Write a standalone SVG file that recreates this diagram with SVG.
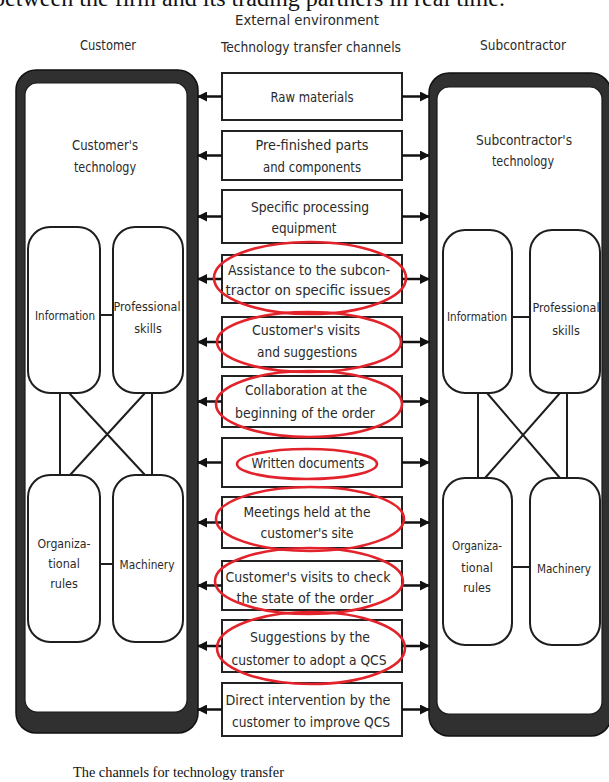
<svg xmlns="http://www.w3.org/2000/svg" width="609" height="782" viewBox="0 0 609 782">
<style>
.t{font-family:"DejaVu Sans Condensed","DejaVu Sans",sans-serif;font-stretch:condensed;fill:#2a2a2a;text-anchor:middle}
.h{font-size:14px}
.c{font-size:14px}
.s{font-size:12.5px}
.box{fill:#fff;stroke:#222;stroke-width:2}
.sub{fill:#fff;stroke:#1e1e1e;stroke-width:2}
.ln{stroke:#1e1e1e;stroke-width:2;fill:none}
.ar{stroke:#111;stroke-width:2.5;fill:none}
.red{fill:none;stroke:#e3232b;stroke-width:2.6}
.outer{fill:#303030;stroke:#111;stroke-width:1.5}
.inner{fill:#fff;stroke:#1a1a1a;stroke-width:1.2}
.serif{font-family:"Liberation Serif","Times New Roman",serif;fill:#111}
</style>
<defs>
<marker id="ah" viewBox="0 0 10 10" refX="9" refY="5" markerWidth="4" markerHeight="4" orient="auto-start-reverse" markerUnits="strokeWidth">
<path d="M0,0 L10,5 L0,10 z" fill="#111"/>
</marker>
</defs>
<rect width="609" height="782" fill="#fff"/>
<text class="serif" x="-7" y="6" font-size="24" textLength="512" lengthAdjust="spacingAndGlyphs">between the firm and its trading partners in real time.</text>

<g id="headers">
<text class="t h" x="307" y="25" textLength="144" lengthAdjust="spacingAndGlyphs">External environment</text>
<text class="t h" x="108" y="50" textLength="56" lengthAdjust="spacingAndGlyphs">Customer</text>
<text class="t h" x="311" y="52" textLength="180" lengthAdjust="spacingAndGlyphs">Technology transfer channels</text>
<text class="t h" x="523" y="50" textLength="86" lengthAdjust="spacingAndGlyphs">Subcontractor</text>
</g>

<g id="customer">
<rect class="outer" x="16" y="70" width="182" height="663" rx="20"/>
<rect class="inner" x="25" y="83" width="162" height="629" rx="12"/>
<text class="t c" x="105" y="150" textLength="66" lengthAdjust="spacingAndGlyphs">Customer's</text>
<text class="t c" x="105" y="172" textLength="62" lengthAdjust="spacingAndGlyphs">technology</text>
</g>
<g id="c-information"><rect class="sub" x="28" y="227" width="72" height="166" rx="22"/><text class="t s" x="65" y="320" textLength="60" lengthAdjust="spacingAndGlyphs">Information</text></g>
<g id="c-skills"><rect class="sub" x="113" y="227" width="70" height="166" rx="22"/><text class="t s" x="147" y="311" textLength="67" lengthAdjust="spacingAndGlyphs">Professional</text><text class="t s" x="148" y="333">skills</text></g>
<g id="c-rules"><rect class="sub" x="28" y="475" width="72" height="167" rx="22"/><text class="t s" x="64" y="548" textLength="53" lengthAdjust="spacingAndGlyphs">Organiza-</text><text class="t s" x="64" y="568">tional</text><text class="t s" x="64" y="588">rules</text></g>
<g id="c-machinery"><rect class="sub" x="113" y="475" width="70" height="167" rx="22"/><text class="t s" x="147" y="569" textLength="55" lengthAdjust="spacingAndGlyphs">Machinery</text></g>

<g id="subcontractor">
<rect class="outer" x="429" y="73" width="182" height="663" rx="20"/>
<rect class="inner" x="437" y="87" width="165" height="627" rx="12"/>
<text class="t c" x="524" y="145" textLength="96" lengthAdjust="spacingAndGlyphs">Subcontractor's</text>
<text class="t c" x="523" y="166" textLength="62" lengthAdjust="spacingAndGlyphs">technology</text>
</g>
<g id="s-information"><rect class="sub" x="443" y="230" width="69" height="163" rx="22"/><text class="t s" x="477" y="321" textLength="60" lengthAdjust="spacingAndGlyphs">Information</text></g>
<g id="s-skills"><rect class="sub" x="530" y="230" width="70" height="163" rx="22"/><text class="t s" x="566" y="312" textLength="67" lengthAdjust="spacingAndGlyphs">Professional</text><text class="t s" x="566" y="335">skills</text></g>
<g id="s-rules"><rect class="sub" x="443" y="478" width="69" height="167" rx="22"/><text class="t s" x="477" y="550" textLength="50" lengthAdjust="spacingAndGlyphs">Organiza-</text><text class="t s" x="477" y="572">tional</text><text class="t s" x="477" y="592">rules</text></g>
<g id="s-machinery"><rect class="sub" x="530" y="478" width="70" height="167" rx="22"/><text class="t s" x="564" y="573" textLength="54" lengthAdjust="spacingAndGlyphs">Machinery</text></g>

<g id="ch1"><rect class="box" x="222" y="73" width="180" height="47"/><text class="t c" x="312" y="102" textLength="83" lengthAdjust="spacingAndGlyphs">Raw materials</text></g>
<g id="ch2"><rect class="box" x="222" y="131" width="180" height="49"/><text class="t c" x="312" y="150" textLength="113" lengthAdjust="spacingAndGlyphs">Pre-finished parts</text><text class="t c" x="312" y="172" textLength="98" lengthAdjust="spacingAndGlyphs">and components</text></g>
<g id="ch3"><rect class="box" x="222" y="190" width="180" height="53"/><text class="t c" x="310" y="212" textLength="118" lengthAdjust="spacingAndGlyphs">Specific processing</text><text class="t c" x="304" y="233" textLength="65" lengthAdjust="spacingAndGlyphs">equipment</text></g>
<g id="ch4"><rect class="box" x="222" y="255" width="180" height="48"/><text class="t c" x="309" y="275" textLength="162" lengthAdjust="spacingAndGlyphs">Assistance to the subcon-</text><text class="t c" x="308" y="295" textLength="165" lengthAdjust="spacingAndGlyphs">tractor on specific issues</text></g>
<g id="ch5"><rect class="box" x="222" y="317" width="180" height="50"/><text class="t c" x="306" y="335" textLength="108" lengthAdjust="spacingAndGlyphs">Customer's visits</text><text class="t c" x="307" y="357" textLength="100" lengthAdjust="spacingAndGlyphs">and suggestions</text></g>
<g id="ch6"><rect class="box" x="222" y="376" width="180" height="51"/><text class="t c" x="306" y="395" textLength="122" lengthAdjust="spacingAndGlyphs">Collaboration at the</text><text class="t c" x="305" y="418" textLength="140" lengthAdjust="spacingAndGlyphs">beginning of the order</text></g>
<g id="ch7"><rect class="box" x="222" y="438" width="180" height="49"/><text class="t c" x="308" y="468" textLength="113" lengthAdjust="spacingAndGlyphs">Written documents</text></g>
<g id="ch8"><rect class="box" x="222" y="497" width="180" height="51"/><text class="t c" x="307" y="517" textLength="127" lengthAdjust="spacingAndGlyphs">Meetings held at the</text><text class="t c" x="307" y="538" textLength="93" lengthAdjust="spacingAndGlyphs">customer's site</text></g>
<g id="ch9"><rect class="box" x="222" y="561" width="180" height="49"/><text class="t c" x="308" y="582" textLength="165" lengthAdjust="spacingAndGlyphs">Customer's visits to check</text><text class="t c" x="305" y="603" textLength="137" lengthAdjust="spacingAndGlyphs">the state of the order</text></g>
<g id="ch10"><rect class="box" x="222" y="620" width="180" height="52"/><text class="t c" x="310" y="642" textLength="120" lengthAdjust="spacingAndGlyphs">Suggestions by the</text><text class="t c" x="309" y="665" textLength="155" lengthAdjust="spacingAndGlyphs">customer to adopt a QCS</text></g>
<g id="ch11"><rect class="box" x="222" y="683" width="180" height="53"/><text class="t c" x="308" y="705" textLength="165" lengthAdjust="spacingAndGlyphs">Direct intervention by the</text><text class="t c" x="311" y="727" textLength="158" lengthAdjust="spacingAndGlyphs">customer to improve QCS</text></g>

<g id="connectors">
<path class="ln" d="M100,315H113 M100,564H113 M60,393V475 M152,393V475 M69,393L145,475 M145,393L70,475"/>
<path class="ln" d="M512,317H530 M512,567H530 M478,393V478 M567,393V478 M487,393L560,478 M560,393L485,478"/>
<g class="ar" marker-end="url(#ah)">
<path d="M222,96.5H198"/><path d="M402,96.5H429"/>
<path d="M222,155.5H198"/><path d="M402,155.5H429"/>
<path d="M222,216.5H198"/><path d="M402,216.5H429"/>
<path d="M222,279H198"/><path d="M402,279H429"/>
<path d="M222,342H198"/><path d="M402,342H429"/>
<path d="M222,401.5H198"/><path d="M402,401.5H429"/>
<path d="M222,462.5H198"/><path d="M402,462.5H429"/>
<path d="M222,522.5H198"/><path d="M402,522.5H429"/>
<path d="M222,585.5H198"/><path d="M402,585.5H429"/>
<path d="M222,646H198"/><path d="M402,646H429"/>
<path d="M222,709.5H198"/><path d="M402,709.5H429"/>
</g>
</g>

<g id="highlights">
<ellipse class="red" cx="310" cy="278" rx="96" ry="36"/>
<ellipse class="red" cx="309" cy="342" rx="92" ry="30"/>
<ellipse class="red" cx="309" cy="404" rx="93" ry="33"/>
<ellipse class="red" cx="307" cy="464" rx="70" ry="15"/>
<ellipse class="red" cx="310" cy="519" rx="94" ry="32"/>
<ellipse class="red" cx="309" cy="581" rx="94" ry="33"/>
<ellipse class="red" cx="311" cy="648" rx="94" ry="36"/>
</g>

<text class="serif" x="73" y="777" font-size="15" textLength="211" lengthAdjust="spacingAndGlyphs">The channels for technology transfer</text>
</svg>
